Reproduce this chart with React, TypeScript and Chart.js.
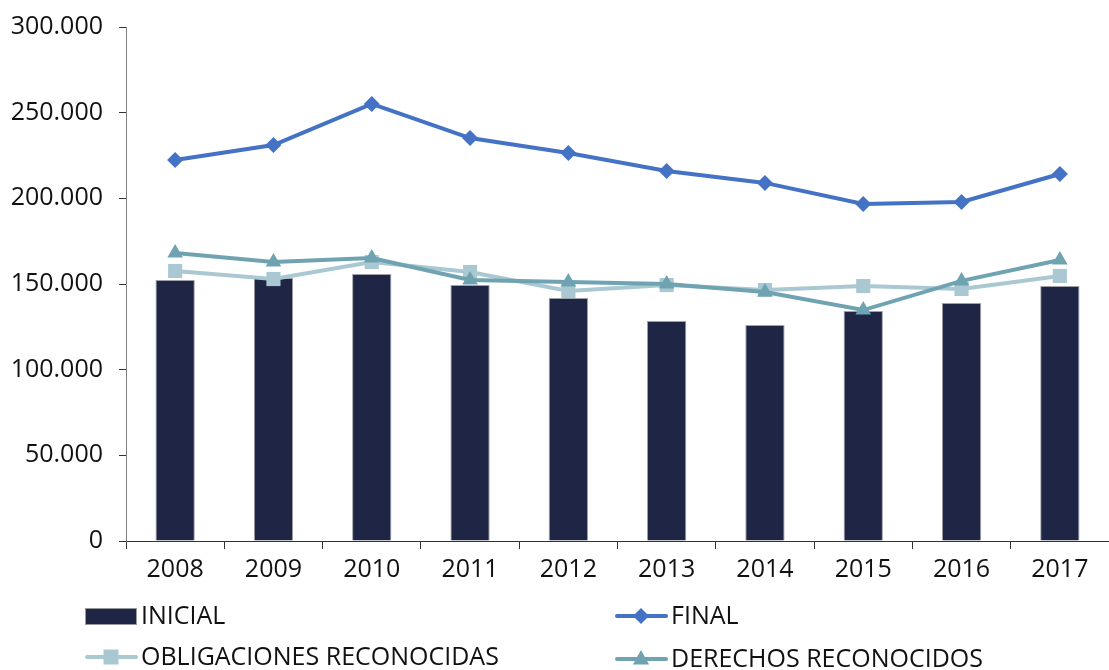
import React, { useEffect, useRef } from "react";
import { Chart, registerables } from "chart.js";

Chart.register(...registerables);

const years = ["2008", "2009", "2010", "2011", "2012", "2013", "2014", "2015", "2016", "2017"];
const inicial = [152300, 153500, 155800, 149400, 141800, 128400, 126000, 134200, 138900, 148800];
const finalValues = [222400, 231100, 255100, 235200, 226500, 216000, 209000, 196700, 197900, 214200];
const obligaciones = [157600, 152900, 162800, 157000, 145900, 149400, 146500, 148800, 147100, 154700];
const derechos = [168100, 162800, 165200, 152300, 151200, 150000, 145300, 134800, 151800, 164000];
const yTicks = [0, 50000, 100000, 150000, 200000, 250000, 300000];

const FONT = "'Open Sans', sans-serif";

function fmt(v: number): string {
  return String(v).replace(/\B(?=(\d{3})+(?!\d))/g, ".");
}

const legendPlugin = {
  id: "customLegend",
  afterDraw(chart: any) {
    const ctx = chart.ctx;
    const ds = chart.data.datasets;
    const items = [
      { d: ds[0], x: 85, y: 616 },
      { d: ds[1], x: 615, y: 616 },
      { d: ds[2], x: 85, y: 657 },
      { d: ds[3], x: 615, y: 659 },
    ];
    ctx.save();
    items.forEach((it, i) => {
      const d = it.d;
      if (i === 0) {
        ctx.fillStyle = d.backgroundColor;
        ctx.fillRect(it.x, it.y - 8, 52, 17);
        ctx.strokeStyle = "#9a9a9a";
        ctx.lineWidth = 1;
        ctx.strokeRect(it.x + 0.5, it.y - 7.5, 51, 16);
      } else {
        ctx.strokeStyle = d.borderColor;
        ctx.lineWidth = 4;
        ctx.lineCap = "round";
        ctx.beginPath();
        ctx.moveTo(it.x + 2, it.y);
        ctx.lineTo(it.x + 51, it.y);
        ctx.stroke();
        ctx.fillStyle = d.pointBackgroundColor;
        const cx = it.x + 26;
        const r = d.pointRadius;
        ctx.beginPath();
        if (d.pointStyle === "rectRot") {
          ctx.moveTo(cx, it.y - r);
          ctx.lineTo(cx + r, it.y);
          ctx.lineTo(cx, it.y + r);
          ctx.lineTo(cx - r, it.y);
        } else if (d.pointStyle === "rect") {
          const s = r * 0.75;
          ctx.rect(cx - s, it.y - s, 2 * s, 2 * s);
        } else {
          ctx.moveTo(cx, it.y - r);
          ctx.lineTo(cx + r * 0.9, it.y + r * 0.6);
          ctx.lineTo(cx - r * 0.9, it.y + r * 0.6);
        }
        ctx.closePath();
        ctx.fill();
      }
      ctx.fillStyle = "#111";
      ctx.font = "25px " + FONT;
      ctx.textAlign = "left";
      ctx.textBaseline = "middle";
      ctx.fillText(d.label, it.x + 56, it.y + 1);
    });
    ctx.restore();
  },
};

export default function App() {
  const ref = useRef<HTMLCanvasElement>(null);
  useEffect(() => {
    if (!ref.current) return;
    const chart = new Chart(ref.current, {
      type: "bar",
      data: {
        labels: years,
        datasets: [
          {
            type: "bar",
            label: "INICIAL",
            data: inicial,
            backgroundColor: "#1f2544",
            borderColor: "#a0a0a8",
            borderWidth: 1,
            barPercentage: 0.4,
            categoryPercentage: 1,
            order: 10,
          },
          {
            type: "line",
            label: "FINAL",
            data: finalValues,
            borderColor: "#4472c4",
            backgroundColor: "#4472c4",
            pointBackgroundColor: "#4472c4",
            pointBorderWidth: 0,
            pointStyle: "rectRot",
            pointRadius: 8,
            borderWidth: 4,
            tension: 0,
            order: 1,
          },
          {
            type: "line",
            label: "OBLIGACIONES RECONOCIDAS",
            data: obligaciones,
            borderColor: "#a9c8d2",
            backgroundColor: "#a9c8d2",
            pointBackgroundColor: "#a9c8d2",
            pointBorderWidth: 0,
            pointStyle: "rect",
            pointRadius: 10,
            borderWidth: 4,
            tension: 0,
            order: 3,
          },
          {
            type: "line",
            label: "DERECHOS RECONOCIDOS",
            data: derechos,
            borderColor: "#6fa3b2",
            backgroundColor: "#6fa3b2",
            pointBackgroundColor: "#6fa3b2",
            pointBorderWidth: 0,
            pointStyle: "triangle",
            pointRadius: 9,
            borderWidth: 4,
            tension: 0,
            order: 2,
          },
        ],
      },
      options: {
        animation: false,
        responsive: false,
        maintainAspectRatio: false,
        layout: { autoPadding: false, padding: { top: 27, left: 0, right: -2, bottom: 0 } },
        plugins: { legend: { display: false }, tooltip: { enabled: false } },
        scales: {
          x: {
            offset: true,
            grid: {
              offset: true,
              drawOnChartArea: false,
              drawTicks: true,
              tickLength: 8,
              color: "#333",
            },
            border: { color: "#333", width: 1 },
            ticks: { color: "#111", font: { family: FONT, size: 25 }, padding: 6 },
            afterFit: (s: any) => {
              s.height = 129;
            },
          },
          y: {
            min: 0,
            max: 300000,
            afterBuildTicks: (s: any) => {
              s.ticks = yTicks.map((v) => ({ value: v }));
            },
            grid: { drawOnChartArea: false, tickLength: 7, color: "#333" },
            border: { color: "#808080", width: 1 },
            ticks: {
              color: "#111",
              font: { family: FONT, size: 25 },
              padding: 16,
              callback: (v: any) => fmt(Number(v)),
            },
            afterFit: (s: any) => {
              s.width = 126;
              s.paddingTop = 0;
              s.paddingBottom = 0;
            },
          },
        },
      },
      plugins: [legendPlugin],
    });
    return () => chart.destroy();
  }, []);
  return (
    <div style={{ position: "absolute", left: 0, top: 0, width: 1109, height: 670, background: "#fff" }}>
      <canvas ref={ref} width={1109} height={670} style={{ width: 1109, height: 670 }} />
    </div>
  );
}
